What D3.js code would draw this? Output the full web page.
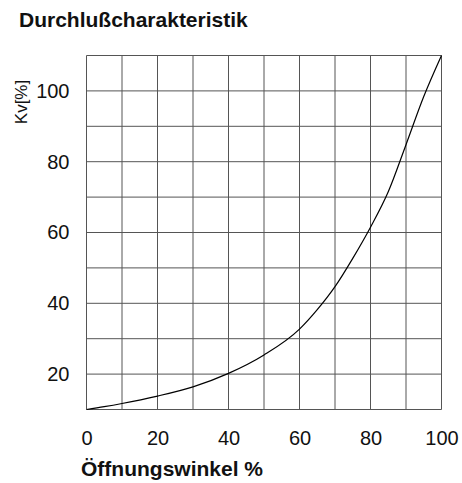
<!DOCTYPE html>
<html>
<head>
<meta charset="utf-8">
<title>Durchlußcharakteristik</title>
<script src="https://cdn.jsdelivr.net/npm/d3@7"></script>
<style>
  body { margin: 0; background: #fff; }
  text { font-family: "Liberation Sans", Arial, sans-serif; fill: #111; }
</style>
</head>
<body>
<svg id="chart" width="462" height="483"></svg>
<script>
// opening angle (%) and flow (Kv %)
var opening = [0, 5, 10, 20, 30, 40, 50, 60, 65, 70, 75, 80, 85, 90, 95, 100];
var kv      = [10, 10.8, 11.7, 13.8, 16.4, 20.2, 25.4, 32.7, 38.2, 44.7, 52.7, 61.5, 71.5, 84.8, 98.4, 110];
var xTicks = [0, 20, 40, 60, 80, 100];
var yTicks = [20, 40, 60, 80, 100];

var svg = d3.select("#chart"),
    margin = {top: 55.5, right: 20.5, bottom: 73.5, left: 86.5},
    width = +svg.attr("width") - margin.left - margin.right,
    height = +svg.attr("height") - margin.top - margin.bottom;

var x = d3.scaleLinear().domain([0, 100]).range([0, width]),
    y = d3.scaleLinear().domain([10, 110]).range([height, 0]);

var g = svg.append("g").attr("transform", "translate(" + margin.left + "," + margin.top + ")");

// grid, every 10 units
g.selectAll(".vgrid").data(d3.range(0, 101, 10)).enter().append("line")
    .attr("x1", function(d) { return x(d); }).attr("x2", function(d) { return x(d); })
    .attr("y1", 0).attr("y2", height)
    .attr("stroke", "#555").attr("stroke-width", 1);
g.selectAll(".hgrid").data(d3.range(10, 111, 10)).enter().append("line")
    .attr("y1", function(d) { return y(d); }).attr("y2", function(d) { return y(d); })
    .attr("x1", 0).attr("x2", width)
    .attr("stroke", "#555").attr("stroke-width", 1);

// axes without domain lines, just the labels
var xAxis = g.append("g").attr("transform", "translate(0," + height + ")")
    .call(d3.axisBottom(x).tickValues(xTicks).tickSize(0).tickPadding(21));
var yAxis = g.append("g")
    .call(d3.axisLeft(y).tickValues(yTicks).tickSize(0).tickPadding(17));
[xAxis, yAxis].forEach(function(a) {
    a.select(".domain").remove();
    a.selectAll("text").style("font-size", "20px").attr("fill", "#111")
        .style("font-family", "'Liberation Sans', Arial, sans-serif");
});

// curve
var line = d3.line()
    .curve(d3.curveMonotoneX)
    .x(function(d, i) { return x(opening[i]); })
    .y(function(d) { return y(d); });
g.append("path").datum(kv)
    .attr("d", line)
    .attr("fill", "none").attr("stroke", "#000").attr("stroke-width", 1.2);

// titles
svg.append("text").attr("x", 19).attr("y", 27)
    .style("font-size", "21px").style("font-weight", "bold")
    .text("Durchlußcharakteristik");
svg.append("text").attr("x", 81).attr("y", 476)
    .style("font-size", "21px").style("font-weight", "bold")
    .text("Öffnungswinkel %");
svg.append("text")
    .attr("transform", "translate(27,102) rotate(-90)")
    .attr("text-anchor", "middle")
    .style("font-size", "17px")
    .text("Kv[%]");
</script>
</body>
</html>
